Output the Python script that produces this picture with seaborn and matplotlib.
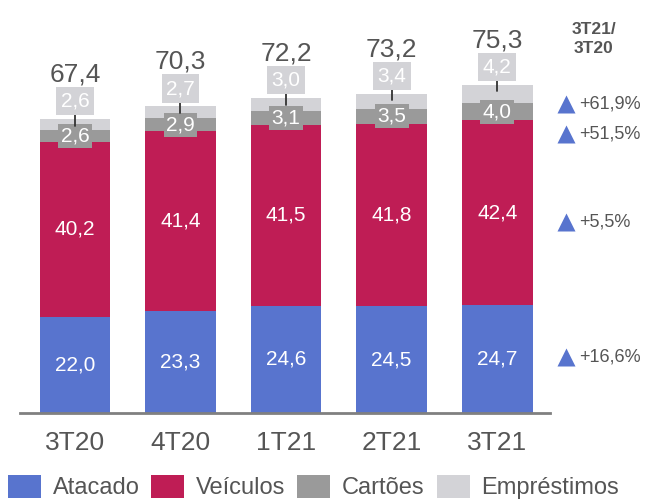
import matplotlib
matplotlib.use("Agg")
import matplotlib.pyplot as plt
import seaborn as sns
import numpy as np
import pandas as pd
from matplotlib.patches import Patch

# ── data ─────────────────────────────────────────
periods     = ["3T20", "4T20", "1T21", "2T21", "3T21"]
atacado     = [22.0, 23.3, 24.6, 24.5, 24.7]
veiculos    = [40.2, 41.4, 41.5, 41.8, 42.4]
cartoes     = [2.6, 2.9, 3.1, 3.5, 4.0]
emprestimos = [2.6, 2.7, 3.0, 3.4, 4.2]
totals      = [67.4, 70.3, 72.2, 73.2, 75.3]
growth      = ["+61,9%", "+51,5%", "+5,5%", "+16,6%"]  # Empréstimos, Cartões, Veículos, Atacado
series_names = ["Atacado", "Veículos", "Cartões", "Empréstimos"]

def fmt(v):
    return f"{v:.1f}".replace(".", ",")

# ── style ────────────────────────────────────────
sns.set_style("white")
plt.rcParams["font.family"] = ["Liberation Sans", "DejaVu Sans"]

C_ATA = "#5874CE"
C_VEI = "#BF1D55"
C_CAR = "#9A9A9A"
C_EMP = "#D3D3D7"
C_TXT = "#555555"

fig = plt.figure(figsize=(6.46, 5.0), dpi=100)
ax = fig.add_axes([20 / 646, 87 / 500, 530 / 646, 413 / 500])

df = pd.DataFrame({"period": periods, "Atacado": atacado, "Veículos": veiculos,
                   "Cartões": cartoes, "Empréstimos": emprestimos})
bottom = np.zeros(len(periods))
colors = [C_ATA, C_VEI, C_CAR, C_EMP]
for name, col in zip(series_names, colors):
    sns.barplot(data=df, x="period", y=name, bottom=bottom, color=col,
                width=0.67, ax=ax, saturation=1, edgecolor="none")
    bottom = bottom + df[name].values

ax.set_xlim(-0.52, 4.5)
ax.set_ylim(0, 94.7)
ax.set_xlabel("")
ax.set_ylabel("")
ax.set_yticks([])
for s in ["top", "right", "left"]:
    ax.spines[s].set_visible(False)
ax.spines["bottom"].set_color("#808080")
ax.spines["bottom"].set_linewidth(2)
ax.tick_params(axis="x", length=0, pad=13, labelsize=19, labelcolor=C_TXT)

# segment labels
for i in range(len(periods)):
    a, v, c, e, t = atacado[i], veiculos[i], cartoes[i], emprestimos[i], totals[i]
    ax.text(i, a / 2, fmt(a), ha="center", va="center", color="white", fontsize=15)
    ax.text(i, a + v / 2, fmt(v), ha="center", va="center", color="white", fontsize=15)
    ax.text(i, a + v + c / 2, fmt(c), ha="center", va="center", color="white", fontsize=15,
            bbox=dict(boxstyle="square,pad=0.12", fc=C_CAR, ec="none"))
    ax.plot([i, i], [t - 1.5, t + 2.2], color="#333333", lw=1.3, zorder=3)
    ax.text(i, t + 4.1, fmt(e), ha="center", va="center", color="white", fontsize=15,
            bbox=dict(boxstyle="square,pad=0.22", fc=C_EMP, ec="none"), zorder=4)
    ax.text(i, t + 10.2, fmt(t), ha="center", va="center", color=C_TXT, fontsize=19)

# growth column
ax.text(4.915, 85.8, "3T21/\n3T20", ha="center", va="center", fontsize=12.5,
        fontweight="bold", color=C_TXT, linespacing=1.3, clip_on=False)
growth_y = [70.8, 64.0, 43.8, 12.8]
for g, gy in zip(growth, growth_y):
    ax.plot(4.65, gy, marker="^", ms=13, color=C_ATA, clip_on=False, mec="none")
    ax.text(4.78, gy, g, ha="left", va="center", fontsize=13, color=C_TXT, clip_on=False)

handles = [Patch(facecolor=c, edgecolor="none") for c in colors]
fig.legend(handles, series_names, loc="lower left", bbox_to_anchor=(-0.021, -0.041),
           ncol=4, frameon=False, fontsize=17, handlelength=1.4, handleheight=1.15,
           handletextpad=0.5, columnspacing=0.5, labelcolor=C_TXT)

fig.savefig("out.png", dpi=100)
